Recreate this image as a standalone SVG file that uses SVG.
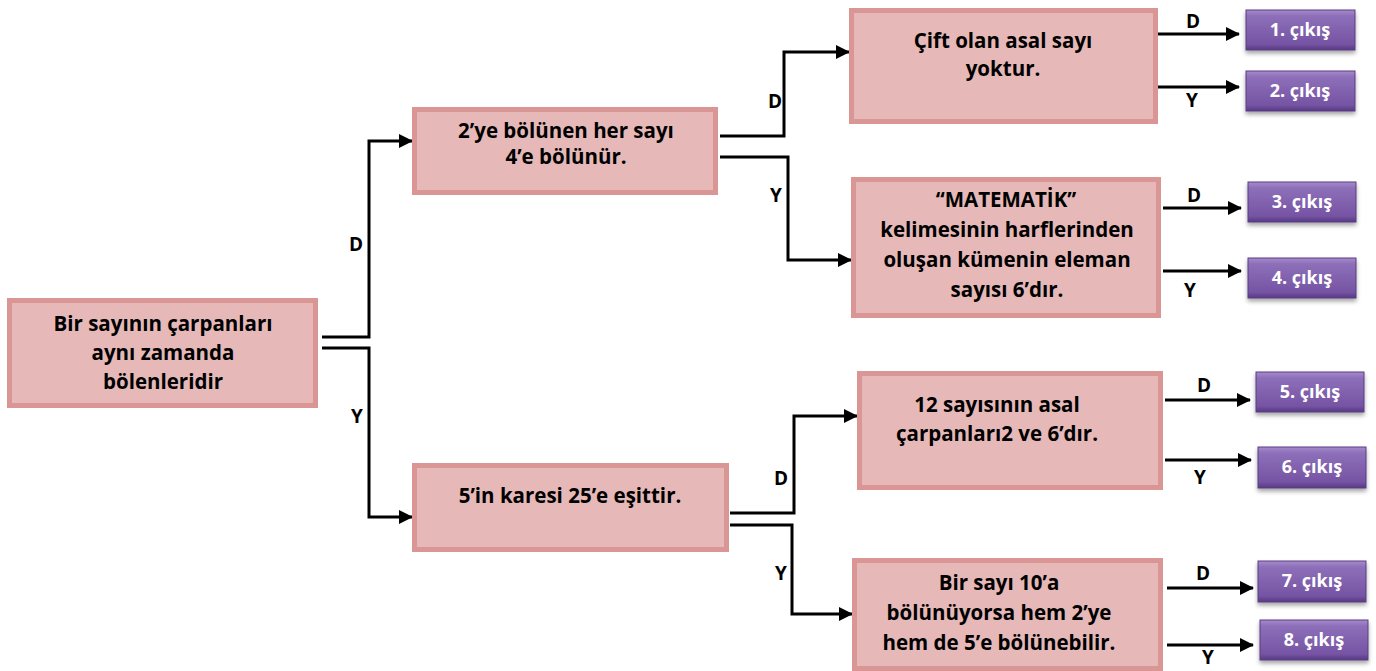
<svg xmlns="http://www.w3.org/2000/svg" width="1376" height="671" viewBox="0 0 1376 671">
<style>
.box{fill:#E6B8B7;stroke:#D99694;stroke-width:5}
.t{font-family:"Open Sans","Liberation Sans",sans-serif;font-weight:700;font-size:20.5px;fill:#000;text-anchor:middle}
.lbl{font-family:"Open Sans","Liberation Sans",sans-serif;font-weight:700;font-size:19px;fill:#000;text-anchor:middle}
.out{fill:url(#pg);stroke:#5A3C84;stroke-width:1;filter:url(#sh)}
.ot{font-family:"Open Sans","Liberation Sans",sans-serif;font-weight:700;font-size:18px;fill:#fff;text-anchor:middle}
.c{fill:none;stroke:#000;stroke-width:3;marker-end:url(#ah)}
</style>
<defs>
<linearGradient id="pg" x1="0" y1="0" x2="0" y2="1">
<stop offset="0" stop-color="#A68BCB"/>
<stop offset="0.15" stop-color="#8D6FB9"/>
<stop offset="0.85" stop-color="#7654A4"/>
<stop offset="1" stop-color="#573883"/>
</linearGradient>
<filter id="sh" x="-20%" y="-20%" width="140%" height="160%">
<feDropShadow dx="0" dy="3" stdDeviation="2" flood-color="#000" flood-opacity="0.35"/>
</filter>
<marker id="ah" markerUnits="userSpaceOnUse" markerWidth="14" markerHeight="14" refX="13" refY="7" orient="auto">
<path d="M0,0 L14,7 L0,14 z" fill="#000"/>
</marker>
</defs>

<g id="connectors">
<path class="c" d="M322,337 H369 V141 H412"/>
<path class="c" d="M322,348 H369 V517 H412"/>
<path class="c" d="M720,136 H784 V52 H849"/>
<path class="c" d="M720,157 H788 V260 H851"/>
<path class="c" d="M730,513 H794 V416 H857"/>
<path class="c" d="M730,525 H792 V614 H852"/>
<path class="c" d="M1158,34 H1239"/>
<path class="c" d="M1158,87 H1239"/>
<path class="c" d="M1163,208 H1241"/>
<path class="c" d="M1163,271 H1241"/>
<path class="c" d="M1165,400 H1250"/>
<path class="c" d="M1165,460 H1251"/>
<path class="c" d="M1167,588 H1253"/>
<path class="c" d="M1167,645 H1253"/>
<text class="lbl" x="356" y="251">D</text>
<text class="lbl" x="357" y="423">Y</text>
<text class="lbl" x="775" y="108">D</text>
<text class="lbl" x="776" y="202">Y</text>
<text class="lbl" x="781" y="485">D</text>
<text class="lbl" x="781" y="580">Y</text>
<text class="lbl" x="1193" y="28">D</text>
<text class="lbl" x="1192" y="107">Y</text>
<text class="lbl" x="1194" y="202">D</text>
<text class="lbl" x="1190" y="297">Y</text>
<text class="lbl" x="1204" y="392">D</text>
<text class="lbl" x="1200" y="484">Y</text>
<text class="lbl" x="1203" y="580">D</text>
<text class="lbl" x="1208" y="664">Y</text>
</g>

<g id="root">
<rect class="box" x="9.5" y="300.5" width="306" height="105"/>
<text class="t" x="163" y="331">Bir sayının çarpanları</text>
<text class="t" x="163" y="360">aynı zamanda</text>
<text class="t" x="163" y="389">bölenleridir</text>
</g>

<g id="nodeA">
<rect class="box" x="414.5" y="109.5" width="301" height="83"/>
<text class="t" x="566" y="138">2’ye bölünen her sayı</text>
<text class="t" x="566" y="164">4’e bölünür.</text>
</g>

<g id="nodeB">
<rect class="box" x="414.5" y="465.5" width="312" height="84"/>
<text class="t" x="570" y="503">5’in karesi 25’e eşittir.</text>
</g>

<g id="nodeC">
<rect class="box" x="851.5" y="10.5" width="304" height="111"/>
<text class="t" x="1003" y="48">Çift olan asal sayı</text>
<text class="t" x="1003" y="76">yoktur.</text>
</g>

<g id="nodeD">
<rect class="box" x="853.5" y="179.5" width="305" height="136"/>
<text class="t" x="1006" y="207">‘‘MATEMATİK’’</text>
<text class="t" x="1007" y="237">kelimesinin harflerinden</text>
<text class="t" x="1007" y="267">oluşan kümenin eleman</text>
<text class="t" x="1007" y="297">sayısı 6’dır.</text>
</g>

<g id="nodeE">
<rect class="box" x="859.5" y="373.5" width="301" height="114"/>
<text class="t" x="997" y="412">12 sayısının asal</text>
<text class="t" x="997" y="441">çarpanları2 ve 6’dır.</text>
</g>

<g id="nodeF">
<rect class="box" x="854.5" y="560.5" width="306" height="108"/>
<text class="t" x="999" y="590">Bir sayı 10’a</text>
<text class="t" x="999" y="620">bölünüyorsa hem 2’ye</text>
<text class="t" x="999" y="650">hem de 5’e bölünebilir.</text>
</g>

<g id="out1"><rect class="out" x="1246" y="10" width="109" height="40"/><text class="ot" x="1300" y="36">1. çıkış</text></g>
<g id="out2"><rect class="out" x="1246" y="71" width="109" height="40"/><text class="ot" x="1300" y="97">2. çıkış</text></g>
<g id="out3"><rect class="out" x="1248" y="182" width="108" height="40"/><text class="ot" x="1302" y="208">3. çıkış</text></g>
<g id="out4"><rect class="out" x="1248" y="258" width="108" height="40"/><text class="ot" x="1302" y="284">4. çıkış</text></g>
<g id="out5"><rect class="out" x="1256" y="372" width="108" height="40"/><text class="ot" x="1310" y="398">5. çıkış</text></g>
<g id="out6"><rect class="out" x="1258" y="447" width="108" height="41"/><text class="ot" x="1312" y="473">6. çıkış</text></g>
<g id="out7"><rect class="out" x="1258" y="561" width="108" height="41"/><text class="ot" x="1312" y="587">7. çıkış</text></g>
<g id="out8"><rect class="out" x="1260" y="620" width="108" height="40"/><text class="ot" x="1314" y="646">8. çıkış</text></g>
</svg>
